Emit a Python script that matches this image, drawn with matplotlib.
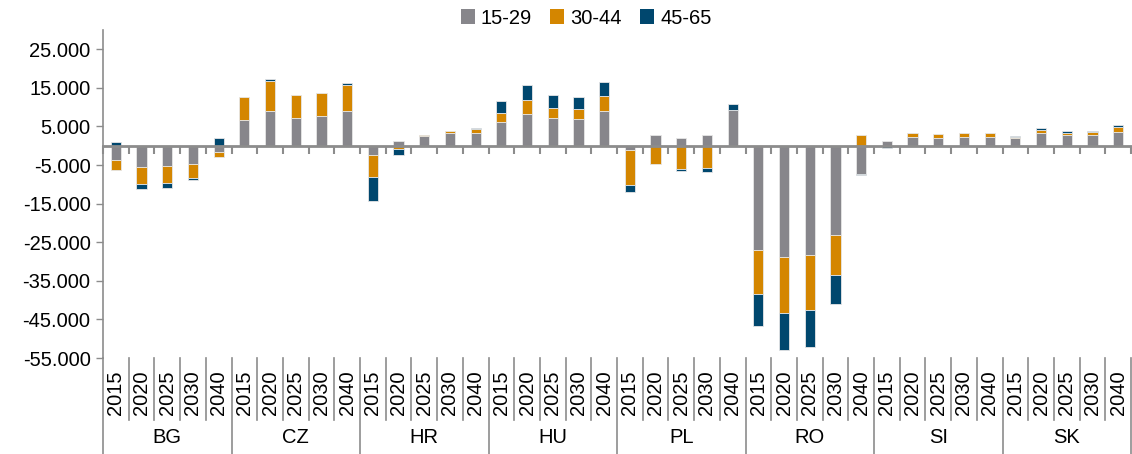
import matplotlib
matplotlib.use("Agg")
import matplotlib.pyplot as plt
import numpy as np
from matplotlib.lines import Line2D
from matplotlib.patches import Patch
from matplotlib.ticker import FuncFormatter, FixedLocator

countries = ["BG", "CZ", "HR", "HU", "PL", "RO", "SI", "SK"]
years = ["2015", "2020", "2025", "2030", "2040"]
series_names = ["15-29", "30-44", "45-65"]

# values per country, in year order
g15_29 = [
    -3700, -5500, -5300, -4600, -1700,      # BG
    6700, 8900, 7200, 7600, 9000,           # CZ
    -2300, 1300, 2600, 3200, 3400,          # HR
    6200, 8200, 7100, 7000, 8900,           # HU
    -1200, 2700, 2100, 2800, 9200,          # PL
    -27000, -28900, -28200, -23200, -7400,  # RO
    1200, 2300, 2100, 2300, 2300,           # SI
    2000, 3300, 2800, 2800, 3500,           # SK
]
g30_44 = [
    -2500, -4500, -4400, -3800, -1200,
    6000, 7800, 5900, 6100, 6800,
    -5900, -900, 300, 700, 900,
    2300, 3700, 2800, 2600, 4000,
    -8900, -4600, -5900, -5800, 0,
    -11500, -14400, -14400, -10300, 2800,
    0, 1100, 900, 900, 1100,
    400, 900, 600, 700, 1300,
]
g45_65 = [
    1000, -1300, -1300, -400, 2000,
    0, 500, 0, 0, 400,
    -6000, -1400, 0, 0, 300,
    3200, 3900, 3200, 3000, 3700,
    -2000, 0, -700, -1000, 1700,
    -8100, -9600, -9600, -7400, -300,
    -500, 0, 0, 0, 0,
    100, 500, 400, 400, 500,
]

colors = ["#87868b", "#d48600", "#00476e"]

plt.rcParams["font.family"] = ["Liberation Sans", "DejaVu Sans"]
fig = plt.figure(figsize=(11.32, 4.54), dpi=100)
ax = fig.add_axes([103 / 1132, 1 - 358 / 454, 1028 / 1132, 328 / 454])

n = len(countries) * len(years)
x = np.arange(n)
pos_base = np.zeros(n)
neg_base = np.zeros(n)
for vals, col, name in zip([g15_29, g30_44, g45_65], colors, series_names):
    v = np.array(vals, dtype=float)
    bottoms = np.where(v >= 0, pos_base, neg_base)
    nz = v != 0
    ax.bar(x[nz], v[nz], bottom=bottoms[nz], width=0.4, color=col,
           edgecolor="#e6e6e6", linewidth=0.6, label=name, zorder=2)
    pos_base = pos_base + np.where(v > 0, v, 0)
    neg_base = neg_base + np.where(v < 0, v, 0)

ax.set_xlim(-0.5, n - 0.5)
ax.set_ylim(-55000, 30000)
ax.yaxis.set_major_locator(FixedLocator(np.arange(-55000, 25001, 10000)))
ax.yaxis.set_major_formatter(FuncFormatter(lambda v, p: f"{int(v):,}".replace(",", ".")))
ax.tick_params(axis="y", labelsize=14.5, length=5, width=1, color="#8c8c8c", pad=4)

for s in ["top", "right"]:
    ax.spines[s].set_visible(False)
ax.spines["left"].set_color("#8c8c8c")
ax.spines["left"].set_linewidth(1.2)
ax.spines["bottom"].set_position(("data", 0))
ax.spines["bottom"].set_color("#8c8c8c")
ax.spines["bottom"].set_linewidth(2)
ax.spines["bottom"].set_zorder(3)
ax.set_xticks(np.arange(-0.5, n, 1.0))
ax.tick_params(axis="x", direction="out", length=6, width=1.5, color="#8c8c8c",
               labelbottom=False)

trans = ax.get_xaxis_transform()
# separators and labels below
for k in range(n + 1):
    xb = k - 0.5
    is_group = (k % len(years) == 0)
    y_end = -0.293 if is_group else -0.189
    ax.add_line(Line2D([xb, xb], [0, y_end], transform=trans, color="#8c8c8c",
                       linewidth=1.2, clip_on=False))
for i in range(n):
    ax.text(x[i], -0.107, years[i % len(years)], transform=trans, rotation=90,
            ha="center", va="center", fontsize=14.5)
for gi, c in enumerate(countries):
    ax.text(gi * len(years) + 2, -0.241, c, transform=trans, ha="center",
            va="center", fontsize=14.5)

handles = [Patch(facecolor=c, edgecolor="none") for c in colors]
fig.legend(handles, series_names, loc="center", bbox_to_anchor=(586 / 1132, 1 - 18 / 454),
           ncol=3, frameon=False, fontsize=14.5, handlelength=0.7, handleheight=0.7,
           handletextpad=0.3, columnspacing=0.9, borderaxespad=0)

fig.savefig("out.png", dpi=100)
